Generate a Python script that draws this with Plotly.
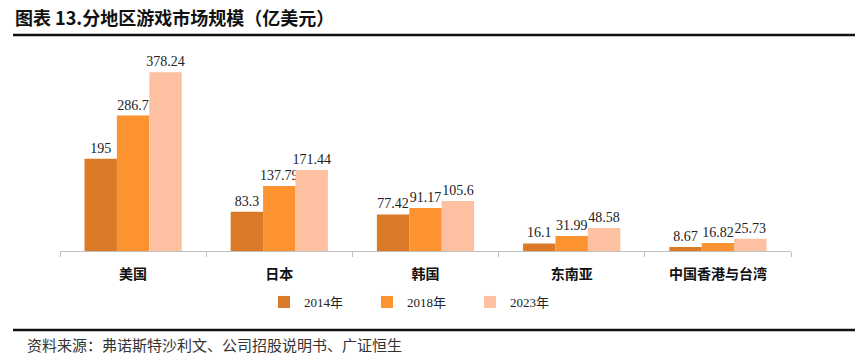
import plotly.graph_objects as go

categories = ["美国", "日本", "韩国", "东南亚", "中国香港与台湾"]
series_names = ["2014年", "2018年", "2023年"]
v2014 = [195, 83.3, 77.42, 16.1, 8.67]
v2018 = [286.7, 137.79, 91.17, 31.99, 16.82]
v2023 = [378.24, 171.44, 105.6, 48.58, 25.73]
labels2014 = ["195", "83.3", "77.42", "16.1", "8.67"]
labels2018 = ["286.7", "137.79", "91.17", "31.99", "16.82"]
labels2023 = ["378.24", "171.44", "105.6", "48.58", "25.73"]

colors = ["#DA7A26", "#FC9230", "#FDC0A0"]
serif = "Liberation Serif, Times New Roman, serif"
cjk = "Noto Sans CJK SC, sans-serif"

L, T, W, H = 60, 62, 731, 189

fig = go.Figure()
for name, vals, labs, col in zip(series_names, [v2014, v2018, v2023],
                                 [labels2014, labels2018, labels2023], colors):
    fig.add_trace(go.Bar(
        x=categories, y=vals, name=name, marker_color=col,
        marker_line_width=0,
        text=labs, textposition="outside", constraintext="none",
        textfont=dict(family=serif, size=14, color="#222222"),
        cliponaxis=False, hoverinfo="skip",
    ))

fig.update_layout(
    width=864, height=356,
    margin=dict(l=L, r=864 - L - W, t=T, b=356 - T - H, autoexpand=False),
    paper_bgcolor="white", plot_bgcolor="white",
    barmode="group", bargap=0.335, bargroupgap=0,
    showlegend=True,
    legend=dict(orientation="h", xref="container", yref="container",
                x=264 / 864, y=1 - 302 / 356, xanchor="left", yanchor="middle",
                font=dict(family=serif + ", " + cjk, size=13, color="#222222"),
                itemwidth=30, entrywidth=58, traceorder="normal"),
    xaxis=dict(showline=True, linecolor="#BFBFBF", linewidth=1,
               ticks="outside", tickson="boundaries", ticklen=5,
               tickcolor="#BFBFBF", ticklabelstandoff=10,
               tickfont=dict(family=cjk, size=14, color="#111111", weight="bold"),
               showgrid=False),
    yaxis=dict(range=[0, 400], visible=False, showgrid=False),
)

def px(x):
    return (x - L) / W

def py(y):
    return 1 - (y - T) / H

fig.add_annotation(xref="paper", yref="paper", x=px(13), y=py(17),
                   xanchor="left", yanchor="middle", showarrow=False,
                   text="<b>图表 13.分地区游戏市场规模（亿美元）</b>",
                   font=dict(family=cjk, size=18, color="#111111"))
fig.add_annotation(xref="paper", yref="paper", x=px(25), y=py(344),
                   xanchor="left", yanchor="middle", showarrow=False,
                   text="资料来源：弗诺斯特沙利文、公司招股说明书、广证恒生",
                   font=dict(family=cjk, size=15, color="#333333"))

for yy in (35, 330):
    fig.add_shape(type="line", xref="paper", yref="paper",
                  x0=px(13), x1=px(855), y0=py(yy), y1=py(yy),
                  line=dict(color="#111111", width=2.5))

fig.write_html("out.html", config={"displayModeBar": False},
               post_script="document.body.style.margin='0';")
